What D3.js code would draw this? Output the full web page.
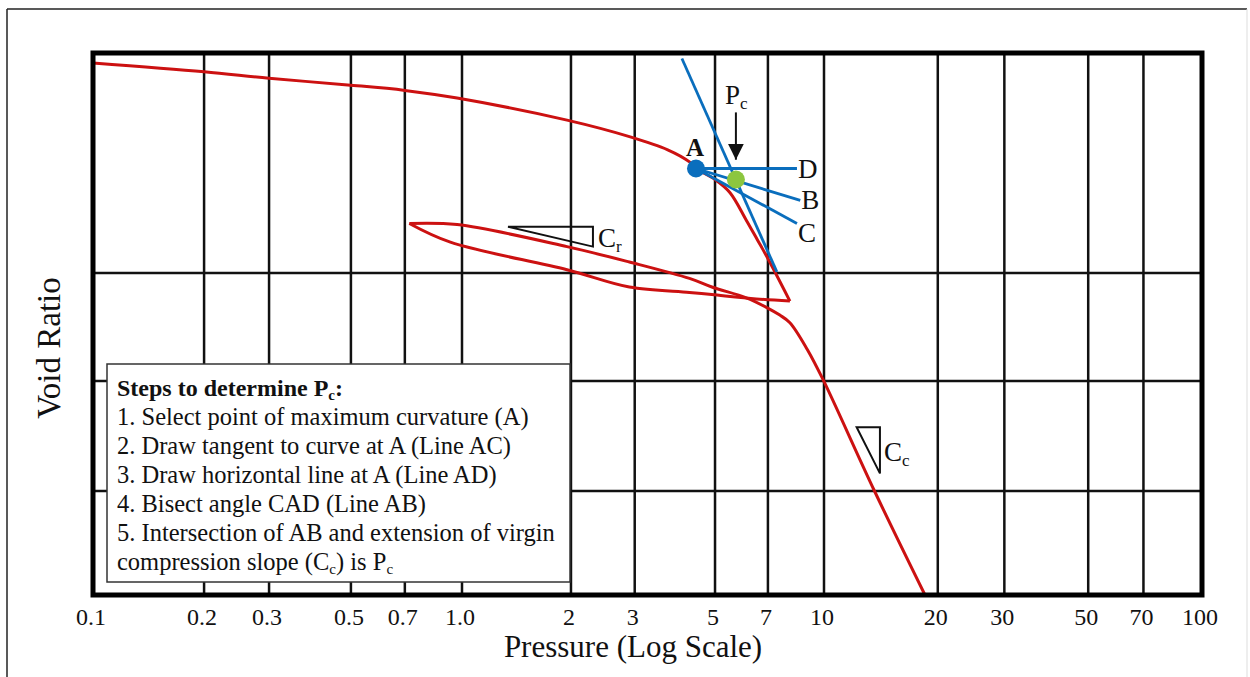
<!DOCTYPE html>
<html>
<head>
<meta charset="utf-8">
<script src="https://cdn.jsdelivr.net/npm/d3@7"></script>
<style>
  body { margin: 0; background: #fff; }
  text { font-family: "Liberation Serif", "Times New Roman", serif; fill: #111; }
</style>
</head>
<body>
<div id="chart"></div>
<script>
// pressure ticks (log scale) and their labels
var xTicks = [0.1, 0.2, 0.3, 0.5, 0.7, 1, 2, 3, 5, 7, 10, 20, 30, 50, 70, 100];
var xTickLabels = ["0.1", "0.2", "0.3", "0.5", "0.7", "1.0", "2", "3", "5", "7", "10", "20", "30", "50", "70", "100"];
// void ratio grid lines
var yGrid = [0.6, 0.7, 0.8];

// consolidation curve [pressure, void ratio]
var loading = [[0.1, 0.991], [0.2, 0.983], [0.3, 0.977], [0.49, 0.971], [0.7, 0.966], [0.97, 0.959],
               [1.95, 0.939], [2.9, 0.924], [3.7, 0.912], [4.25, 0.901], [4.43, 0.895], [5.0, 0.885],
               [5.5, 0.873], [6.1, 0.848], [6.55, 0.830], [6.95, 0.815], [8.05, 0.774]];
var unloading = [[8.05, 0.774], [6.5, 0.776], [4.9, 0.780], [4.25, 0.782], [2.9, 0.787],
                 [1.95, 0.803], [0.93, 0.828], [0.72, 0.845]];
var reloading = [[0.72, 0.845], [0.97, 0.844], [1.95, 0.824], [2.9, 0.810], [4.25, 0.795],
                 [4.9, 0.787], [6.1, 0.777], [6.95, 0.768], [7.55, 0.761], [8.05, 0.754],
                 [9.0, 0.729], [9.95, 0.701], [13.6, 0.6], [18.5, 0.5]];

// Casagrande construction
var pointA = [4.43, 0.895];
var pointPc = [5.71, 0.885];
var lineAD = [[4.43, 0.895], [8.42, 0.895]];
var lineAB = [[4.43, 0.895], [8.6, 0.866]];
var lineAC = [[4.43, 0.895], [8.42, 0.845]];
var ccExtension = [[4.05, 0.995], [7.41, 0.801]];
var pcArrow = [[5.71, 0.946], [5.71, 0.903]];

// slope triangles
var crTriangle = [[1.34, 0.842], [2.3, 0.842], [2.3, 0.824]];
var ccTriangle = [[12.2, 0.658], [14.06, 0.658], [14.06, 0.616]];

var stepsLines = [
    "1. Select point of maximum curvature (A)",
    "2. Draw tangent to curve at A (Line AC)",
    "3. Draw horizontal line at A (Line AD)",
    "4. Bisect angle CAD (Line AB)",
    "5. Intersection of AB and extension of virgin"
];

function init() {
    var w = 1250;
    var h = 677;

    var x = d3.scaleLog()
              .domain([0.1, 1, 10, 100])
              .range([93, 462, 824, 1202]);

    var y = d3.scaleLinear()
              .domain([0.5, 0.6, 0.7, 0.8, 1.0])
              .range([595, 491, 381, 273, 53]);

    var svg = d3.select("#chart")
            .append("svg")
            .attr("width", w)
            .attr("height", h);

    //outer picture frame
    svg.append("line").attr("x1", 7).attr("y1", 9).attr("x2", 7).attr("y2", h)
        .attr("stroke", "#222").attr("stroke-width", 1.5);
    svg.append("line").attr("x1", 7).attr("y1", 9).attr("x2", 1247).attr("y2", 9)
        .attr("stroke", "#222").attr("stroke-width", 1.5);
    svg.append("line").attr("x1", 1247).attr("y1", 9).attr("x2", 1247).attr("y2", h)
        .attr("stroke", "#ddd").attr("stroke-width", 1);

    //grid
    svg.selectAll("line.vgrid")
        .data(xTicks.slice(1, -1))
        .enter()
        .append("line")
        .attr("class", "vgrid")
        .attr("x1", function(d) { return x(d); })
        .attr("x2", function(d) { return x(d); })
        .attr("y1", y(1.0))
        .attr("y2", y(0.5))
        .attr("stroke", "#111")
        .attr("stroke-width", 2.5);

    svg.selectAll("line.hgrid")
        .data(yGrid)
        .enter()
        .append("line")
        .attr("class", "hgrid")
        .attr("x1", x(0.1))
        .attr("x2", x(100))
        .attr("y1", function(d) { return y(d); })
        .attr("y2", function(d) { return y(d); })
        .attr("stroke", "#111")
        .attr("stroke-width", 2.5);

    //tick labels
    svg.selectAll("text.tick")
        .data(xTicks)
        .enter()
        .append("text")
        .attr("class", "tick")
        .attr("x", function(d) { return x(d) - 2; })
        .attr("y", 625)
        .attr("text-anchor", "middle")
        .style("font-size", "24px")
        .text(function(d, i) { return xTickLabels[i]; });

    svg.append("text")
        .attr("x", 633)
        .attr("y", 657)
        .attr("text-anchor", "middle")
        .style("font-size", "31px")
        .text("Pressure (Log Scale)");

    svg.append("text")
        .attr("transform", "translate(60,348) rotate(-90)")
        .attr("text-anchor", "middle")
        .style("font-size", "33px")
        .text("Void Ratio");

    var line = d3.line()
        .x(function(d) { return x(d[0]); })
        .y(function(d) { return y(d[1]); });

    var smooth = d3.line()
        .x(function(d) { return x(d[0]); })
        .y(function(d) { return y(d[1]); })
        .curve(d3.curveCatmullRom.alpha(0.5));

    //red consolidation curve
    [loading, unloading, reloading].forEach(function(seg) {
        svg.append("path")
            .attr("d", smooth(seg))
            .attr("fill", "none")
            .attr("stroke", "#cc1111")
            .attr("stroke-width", 3)
            .attr("stroke-linejoin", "round");
    });

    //slope triangles
    [crTriangle, ccTriangle].forEach(function(tri) {
        svg.append("path")
            .attr("d", line(tri) + "Z")
            .attr("fill", "none")
            .attr("stroke", "#111")
            .attr("stroke-width", 2);
    });

    //blue construction lines
    [lineAD, lineAB, lineAC, ccExtension].forEach(function(seg) {
        svg.append("path")
            .attr("d", line(seg))
            .attr("fill", "none")
            .attr("stroke", "#0a6ebd")
            .attr("stroke-width", 2.8);
    });

    svg.append("circle")
        .attr("cx", x(pointA[0])).attr("cy", y(pointA[1]))
        .attr("r", 9)
        .style("fill", "#0a6ebd");

    svg.append("circle")
        .attr("cx", x(pointPc[0])).attr("cy", y(pointPc[1]))
        .attr("r", 9)
        .style("fill", "#8cc63f");

    //Pc arrow
    svg.append("defs").append("marker")
        .attr("id", "head")
        .attr("markerUnits", "userSpaceOnUse")
        .attr("viewBox", "0 0 10 10")
        .attr("refX", 10).attr("refY", 5)
        .attr("markerWidth", 16).attr("markerHeight", 16)
        .attr("orient", "auto")
        .append("path")
        .attr("d", "M0,0 L10,5 L0,10 Z")
        .attr("fill", "#111");

    svg.append("path")
        .attr("d", line(pcArrow))
        .attr("stroke", "#111")
        .attr("stroke-width", 2)
        .attr("marker-end", "url(#head)");

    //labels
    svg.append("text")
        .attr("x", x(pointA[0]) - 1)
        .attr("y", y(pointA[1]) - 13)
        .attr("text-anchor", "middle")
        .style("font-size", "25px")
        .style("font-weight", "bold")
        .text("A");

    var ends = [[lineAD[1], "D", 9], [lineAB[1], "B", 9], [lineAC[1], "C", 18]];
    ends.forEach(function(e) {
        svg.append("text")
            .attr("x", x(e[0][0]) + 1)
            .attr("y", y(e[0][1]) + e[2])
            .style("font-size", "27px")
            .text(e[1]);
    });

    function subLabel(px, py, main, sub) {
        var t = svg.append("text")
            .attr("x", px)
            .attr("y", py)
            .style("font-size", "27px");
        t.append("tspan").text(main);
        t.append("tspan").attr("dy", 5).style("font-size", "17px").text(sub);
        return t;
    }

    subLabel(x(pcArrow[0][0]) - 11, y(pcArrow[0][1]) - 8, "P", "c");
    subLabel(x(crTriangle[1][0]) + 5, y(crTriangle[2][1]), "C", "r");
    subLabel(x(ccTriangle[1][0]) + 4, y(ccTriangle[2][1]) - 12, "C", "c");

    //steps box
    var box = svg.append("g");
    box.append("rect")
        .attr("x", 107).attr("y", 364)
        .attr("width", 463).attr("height", 218)
        .attr("fill", "#fff")
        .attr("stroke", "#333")
        .attr("stroke-width", 1.5);

    var title = box.append("text")
        .attr("x", 117).attr("y", 396)
        .style("font-size", "24px")
        .style("font-weight", "bold");
    title.append("tspan").text("Steps to determine P");
    title.append("tspan").attr("dy", 4).style("font-size", "15px").text("c");
    title.append("tspan").attr("dy", -4).text(":");

    box.selectAll("text.step")
        .data(stepsLines)
        .enter()
        .append("text")
        .attr("class", "step")
        .attr("x", 117)
        .attr("y", function(d, i) { return 425 + i * 29; })
        .style("font-size", "24.5px")
        .text(function(d) { return d; });

    var last = box.append("text")
        .attr("x", 117).attr("y", 570)
        .style("font-size", "24.5px");
    last.append("tspan").text("compression slope (C");
    last.append("tspan").attr("dy", 4).style("font-size", "15px").text("c");
    last.append("tspan").attr("dy", -4).text(") is P");
    last.append("tspan").attr("dy", 4).style("font-size", "15px").text("c");

    //plot frame
    svg.append("rect")
        .attr("x", x(0.1)).attr("y", y(1.0))
        .attr("width", x(100) - x(0.1))
        .attr("height", y(0.5) - y(1.0))
        .attr("fill", "none")
        .attr("stroke", "#000")
        .attr("stroke-width", 5);
}

window.onload = init;
</script>
</body>
</html>
